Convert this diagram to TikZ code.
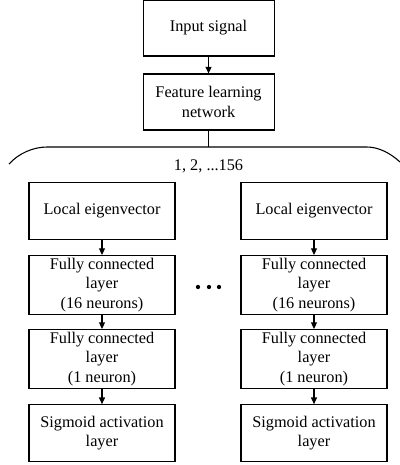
\documentclass[tikz,border=0pt,12pt]{standalone}
\usepackage{fontspec}
\setmainfont{Liberation Serif}
\usepackage{tikz}
\usetikzlibrary{shapes,arrows,arrows.meta}
\usetikzlibrary{positioning}
\tikzstyle{block} = [rectangle, draw, thick, align=center,
    minimum width=109.5pt, minimum height=42.5pt, inner sep=2pt,
    font=\fontsize{12.2}{14.6}\selectfont]
\tikzstyle{topblock} = [block, minimum width=98.25pt, minimum height=42pt]
\tikzstyle{line} = [draw, thick, -{Triangle[length=5pt,width=4.5pt]}]

\begin{document}
\begin{tikzpicture}[node distance = 55.5pt, auto]
  \useasboundingbox (0pt,0pt) rectangle (300pt,-348.75pt);
  % Place nodes
  \node [topblock] at (156.4pt,-21pt) (input) {Input signal};
  \node [topblock, below of=input] (feature) {Feature learning\\network};
  \coordinate (brace) at (156.4pt,-110.25pt);
  \node [font=\fontsize{12.2}{14.6}\selectfont] at (156.4pt,-124.5pt) (range) {1, 2, ...156};
  % left branch
  \node [block] at (76.5pt,-158.25pt) (localA) {Local eigenvector};
  \node [block, below of=localA] (fcA) {Fully connected\\layer\\(16 neurons)};
  \node [block, below of=fcA] (outA) {Fully connected\\layer\\(1 neuron)};
  \node [block, below of=outA] (sigA) {Sigmoid activation\\layer};
  % right branch
  \node [block] at (235.5pt,-158.25pt) (localB) {Local eigenvector};
  \node [block, below of=localB] (fcB) {Fully connected\\layer\\(16 neurons)};
  \node [block, below of=fcB] (outB) {Fully connected\\layer\\(1 neuron)};
  \node [block, below of=outB] (sigB) {Sigmoid activation\\layer};
  % dots between branches
  \foreach \x in {148.5pt,156.75pt,164.25pt}
    \fill (\x,-215.25pt) circle (1.6pt);
  % Draw edges
  \path [line] (input) -- (feature);
  \draw [thick] (feature) -- (brace);
  \draw [thick] (6.75pt,-123pt) .. controls (14pt,-115pt) and (25pt,-110.25pt)
    .. (35.25pt,-110.25pt) -- (275.25pt,-110.25pt)
    .. controls (284pt,-110.25pt) and (293pt,-115pt) .. (300pt,-121.5pt);
  \path [line] (localA) -- (fcA);
  \path [line] (fcA) -- (outA);
  \path [line] (outA) -- (sigA);
  \path [line] (localB) -- (fcB);
  \path [line] (fcB) -- (outB);
  \path [line] (outB) -- (sigB);
\end{tikzpicture}
\end{document}
